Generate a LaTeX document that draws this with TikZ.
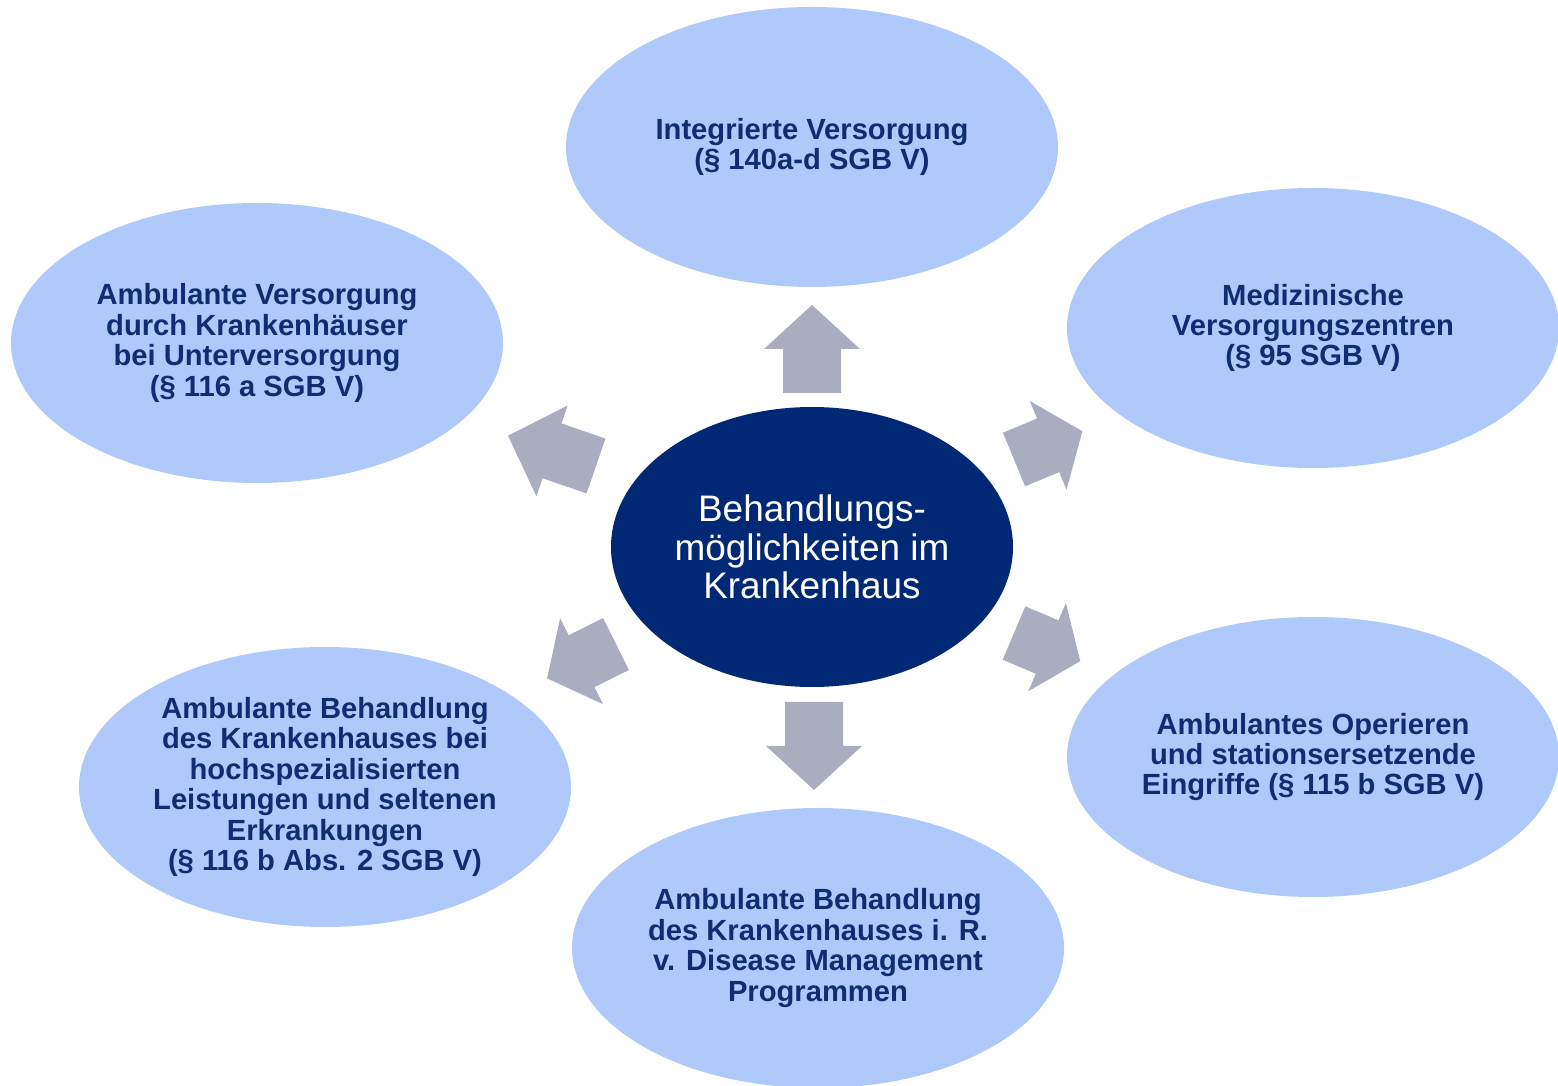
\documentclass[tikz,border=0pt]{standalone}
\usepackage{fontspec}
\setmainfont{Liberation Sans}
\usepackage{xcolor}
\usetikzlibrary{shapes.geometric}

\definecolor{bubblefill}{RGB}{176,201,251}
\definecolor{bubbletext}{RGB}{15,45,112}
\definecolor{hubfill}{RGB}{0,40,116}
\definecolor{arrowgrey}{RGB}{170,172,192}

\begin{document}
\begin{tikzpicture}[
    option/.style={ellipse, fill=bubblefill, minimum width=4.92cm, minimum height=2.8cm, inner sep=0pt, align=center, text=bubbletext, font=\bfseries\fontsize{8.3}{8.65}\selectfont},
    hub/.style={ellipse, fill=hubfill, minimum width=4.02cm, minimum height=2.8cm, inner sep=0pt, align=center, text=white, font=\fontsize{10.5}{10.9}\selectfont},
    pics/blockarrow/.style={code={
        \fill[arrowgrey] (0,-0.29) -- (#1/2,-0.29) -- (#1/2,-0.48) -- (#1,0) -- (#1/2,0.48) -- (#1/2,0.29) -- (0,0.29) -- cycle;
    }}
]
\useasboundingbox (0,0) rectangle (15.58,-10.86);

% Centre
\node[hub] (hub) at (8.12,-5.47) {Behandlungs-\\möglichkeiten im\\Krankenhaus};

% Options around the centre
\node[option] (integ) at (8.12,-1.47) {Integrierte Versorgung\\(§ 140a-d SGB V)};
\node[option] (mvz) at (13.13,-3.28) {Medizinische\\Versorgungszentren\\(§ 95 SGB V)};
\node[option] (opvz) at (13.13,-7.57) {Ambulantes Operieren\\und stationsersetzende\\Eingriffe (§ 115 b SGB V)};
\node[option] (dmp) at (8.18,-9.48) {Ambulante Behandlung\\des Krankenhauses i. R.\\v. Disease Management\\Programmen};
\node[option] (hochsp) at (3.25,-7.87) {Ambulante Behandlung\\des Krankenhauses bei\\hochspezialisierten\\Leistungen und seltenen\\Erkrankungen\\(§ 116 b Abs. 2 SGB V)};
\node[option] (unterv) at (2.57,-3.43) {Ambulante Versorgung\\durch Krankenhäuser\\bei Unterversorgung\\(§ 116 a SGB V)};

% Block arrows
\pic[rotate=90] at (8.12,-3.93) {blockarrow=0.88};
\pic[rotate=22.5] at (10.14,-4.595) {blockarrow=0.74};
\pic[rotate=-23] at (10.14,-6.33) {blockarrow=0.72};
\pic[rotate=-90] at (8.14,-7.02) {blockarrow=0.88};
\pic[rotate=206.5] at (6.16,-6.44) {blockarrow=0.77};
\pic[rotate=161] at (5.96,-4.66) {blockarrow=0.93};

\end{tikzpicture}
\end{document}
